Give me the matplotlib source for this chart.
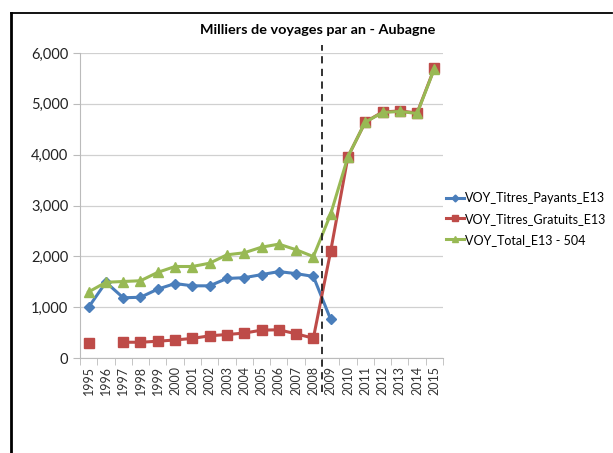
import numpy as np
import matplotlib
matplotlib.use("Agg")
import matplotlib.pyplot as plt
import matplotlib.ticker as mticker
from matplotlib.lines import Line2D

plt.rcParams["font.family"] = ["Lato", "DejaVu Sans"]

years = [str(y) for y in range(1995, 2016)]
payants = [1000, 1490, 1185, 1195, 1355, 1465, 1420, 1420, 1565, 1580, 1640, 1700, 1660, 1605, 760,
           None, None, None, None, None, None]
gratuits = [297, None, 310, 310, 330, 355, 385, 437, 462, 490, 548, 555, 476, 390, 2100,
            3960, 4640, 4840, 4860, 4820, 5700]
total = [1300, 1490, 1505, 1520, 1685, 1800, 1800, 1865, 2030, 2070, 2180, 2240, 2130, 1995, 2830,
         3960, 4640, 4830, 4850, 4810, 5690]
series_names = ["VOY_Titres_Payants_E13", "VOY_Titres_Gratuits_E13", "VOY_Total_E13 - 504"]
COLORS = ["#4A7EBB", "#BE4B48", "#98B954"]
MARKERS = ["D", "s", "^"]
MSIZES = [5, 7, 7]
break_pos = 13.5


def to_arr(vals):
    return np.array([np.nan if v is None else v for v in vals], dtype=float)


fig = plt.figure(figsize=(6.13, 4.53), dpi=100)
ax = fig.add_axes([0.1305, 0.2097, 0.5922, 0.6733])
x = np.arange(len(years))

for vals, c, m, ms in zip([payants, gratuits, total], COLORS, MARKERS, MSIZES):
    ax.plot(x, to_arr(vals), color=c, lw=2.2, marker=m, markersize=ms,
            markeredgecolor=c, zorder=3)

ax.axvline(break_pos, ymin=-0.11, ymax=1.025, color="#222222", lw=1.3,
           ls=(0, (4, 3)), clip_on=False, zorder=4)

ax.set_xlim(-0.5, len(years) - 0.5)
ax.set_ylim(0, 6000)
ax.yaxis.set_major_locator(mticker.MultipleLocator(1000))
ax.yaxis.set_major_formatter(mticker.FuncFormatter(lambda v, p: f"{int(v):,}"))
ax.set_xticks(x)
ax.set_xticklabels(years, rotation=90, fontsize=9, color="#333333")
ax.set_xticks(np.arange(-0.5, len(years), 1), minor=True)
ax.tick_params(axis="x", which="major", length=0, pad=6)
ax.tick_params(axis="x", which="minor", length=5, color="#BBBBBB")
ax.tick_params(axis="y", length=5, color="#BBBBBB", labelsize=10.5, labelcolor="#222222")
ax.grid(axis="y", color="#D0D0D0", lw=0.9)
ax.set_axisbelow(True)
for s in ["top", "right"]:
    ax.spines[s].set_visible(False)
for s in ["left", "bottom"]:
    ax.spines[s].set_color("#BBBBBB")

handles = [Line2D([0], [0], color=c, lw=2.2, marker=m, markersize=ms * 0.7)
           for c, m, ms in zip(COLORS, MARKERS, MSIZES)]
fig.legend(handles, series_names, loc="upper left", bbox_to_anchor=(0.72, 0.587),
           frameon=False, fontsize=9, handlelength=1.4, handletextpad=0.1,
           labelspacing=0.7, borderaxespad=0)

fig.text(318 / 613, 1 - 30 / 453, "Milliers de voyages par an - Aubagne",
         ha="center", va="center", fontsize=10.4, fontweight="bold")

# chart frame (left and top edges only)
fig.add_artist(Line2D([11 / 613, 11 / 613], [0, 1 - 13 / 453], color="black", lw=2,
                      transform=fig.transFigure))
fig.add_artist(Line2D([11 / 613, 612 / 613], [1 - 13 / 453, 1 - 13 / 453], color="black", lw=1.3,
                      transform=fig.transFigure))

fig.savefig("out.png", dpi=100, facecolor="white")
